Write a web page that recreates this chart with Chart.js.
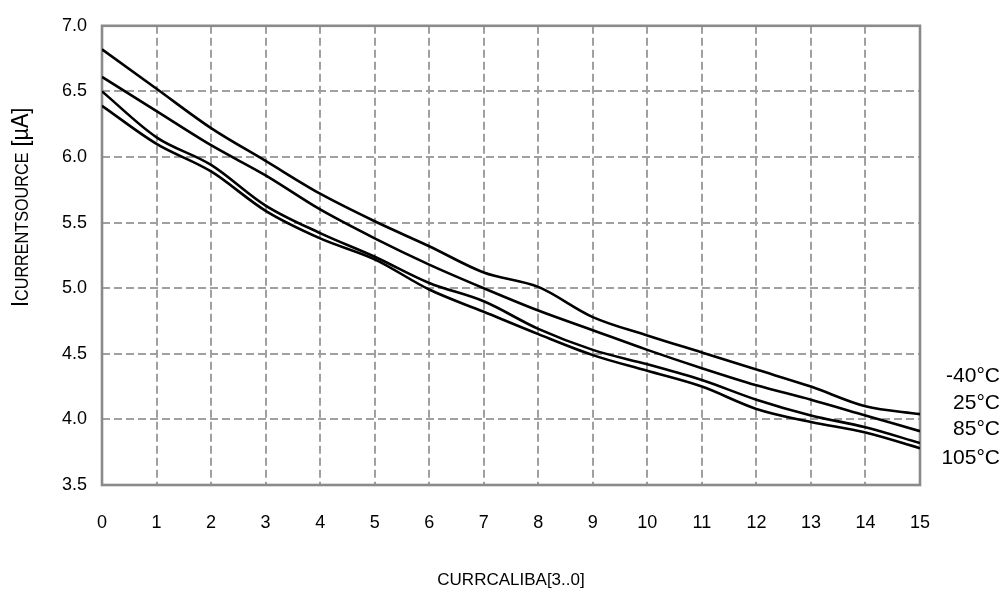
<!DOCTYPE html>
<html>
<head>
<meta charset="utf-8">
<script src="https://cdn.jsdelivr.net/npm/chart.js@4/dist/chart.umd.min.js"></script>
<style>
  html, body { margin: 0; padding: 0; background: #fff; }
  #wrap { position: relative; width: 1002px; height: 592px; }
</style>
</head>
<body>
<div id="wrap"><canvas id="ichart" width="1002" height="592"></canvas></div>
<script>
// CURRCALIBA code on x, current source in µA on y
const calibCodes = [0, 1, 2, 3, 4, 5, 6, 7, 8, 9, 10, 11, 12, 13, 14, 15];
const tempLabels = ['-40°C', '25°C', '85°C', '105°C'];
const iMinus40 = [6.82, 6.52, 6.22, 5.97, 5.72, 5.51, 5.32, 5.12, 5.01, 4.78, 4.64, 4.51, 4.38, 4.25, 4.10, 4.04];
const i25 = [6.61, 6.35, 6.09, 5.86, 5.60, 5.38, 5.18, 5.00, 4.83, 4.68, 4.53, 4.39, 4.26, 4.15, 4.03, 3.91];
const i85 = [6.50, 6.15, 5.94, 5.63, 5.42, 5.24, 5.04, 4.90, 4.69, 4.53, 4.42, 4.30, 4.15, 4.03, 3.94, 3.82];
const i105 = [6.39, 6.10, 5.89, 5.59, 5.38, 5.22, 4.99, 4.82, 4.65, 4.49, 4.37, 4.25, 4.08, 3.98, 3.90, 3.78];
const yTicks = [3.5, 4.0, 4.5, 5.0, 5.5, 6.0, 6.5, 7.0];

const FONT = '"Liberation Sans", Arial, sans-serif';
const gridGrey = '#a0a0a0';
const frameGrey = '#8a8a8a';

const series = [iMinus40, i25, i85, i105];
const datasets = series.map((vals, i) => ({
    label: tempLabels[i],
    data: vals.map((v, k) => ({ x: calibCodes[k], y: v })),
    borderColor: '#000',
    borderWidth: 2.6,
    pointRadius: 0,
    fill: false,
    cubicInterpolationMode: 'monotone'
}));

// solid frame round the plot area (grid lines stay dashed)
const framePlugin = {
    id: 'frame',
    beforeDatasetsDraw(chart) {
        const { ctx, chartArea: a } = chart;
        ctx.save();
        ctx.strokeStyle = frameGrey;
        ctx.lineWidth = 2.6;
        ctx.setLineDash([]);
        ctx.strokeRect(a.left, a.top, a.right - a.left, a.bottom - a.top);
        ctx.restore();
    }
};

// y title with the small-caps subscript, and the temperature labels on the right
const textPlugin = {
    id: 'texts',
    afterDraw(chart) {
        const { ctx, chartArea: a } = chart;
        ctx.save();
        ctx.fillStyle = '#000';
        ctx.textBaseline = 'alphabetic';

        // the original uses a narrow face: squeeze along the text direction
        ctx.save();
        ctx.translate(28, 307);
        ctx.rotate(-Math.PI / 2);
        ctx.scale(0.9, 1);
        ctx.textAlign = 'left';
        let x = 0;
        ctx.font = '24px ' + FONT;
        ctx.fillText('I', x, 0);
        x += ctx.measureText('I').width;
        ctx.font = '18px ' + FONT;
        ctx.fillText('CURRENTSOURCE', x, 0);
        x += ctx.measureText('CURRENTSOURCE').width;
        ctx.font = '24px ' + FONT;
        ctx.fillText(' [µA]', x, 0);
        ctx.restore();

        ctx.font = '21px ' + FONT;
        ctx.textAlign = 'right';
        ctx.textBaseline = 'middle';
        const rows = [350, 377, 403, 432];
        tempLabels.forEach((t, i) => {
            ctx.fillText(t, chart.width - 2, a.top + rows[i]);
        });
        ctx.restore();
    }
};

new Chart(document.getElementById('ichart'), {
    type: 'line',
    data: { datasets },
    options: {
        responsive: false,
        animation: false,
        events: [],
        layout: { padding: { top: 20, right: 82, bottom: 0, left: 0 } },
        plugins: {
            legend: { display: false },
            tooltip: { enabled: false }
        },
        scales: {
            x: {
                type: 'linear',
                min: 0,
                max: 15,
                afterFit(scale) { scale.height = 107; },
                afterBuildTicks(scale) {
                    scale.ticks = calibCodes.map(v => ({ value: v }));
                },
                ticks: {
                    color: '#000',
                    padding: 27,
                    maxRotation: 0,
                    font: { family: FONT, size: 18 },
                    callback: v => String(v)
                },
                grid: {
                    drawTicks: false,
                    color: ctx => (ctx.tick && (ctx.tick.value === 0 || ctx.tick.value === 15)) ? 'rgba(0,0,0,0)' : gridGrey,
                    lineWidth: 2
                },
                border: { display: false, dash: [8, 4] },
                title: {
                    display: true,
                    text: 'CURRCALIBA[3..0]',
                    color: '#000',
                    font: { family: FONT, size: 17 },
                    padding: { top: 0, bottom: 1 }
                }
            },
            y: {
                type: 'linear',
                min: 3.5,
                max: 7.0,
                afterFit(scale) { scale.width = 102; },
                afterBuildTicks(scale) {
                    scale.ticks = yTicks.map(v => ({ value: v }));
                },
                ticks: {
                    color: '#000',
                    padding: 15,
                    font: { family: FONT, size: 18 },
                    callback: v => Number(v).toFixed(1)
                },
                grid: {
                    drawTicks: false,
                    color: ctx => (ctx.tick && (ctx.tick.value === 3.5 || ctx.tick.value === 7)) ? 'rgba(0,0,0,0)' : gridGrey,
                    lineWidth: 2
                },
                border: { display: false, dash: [8, 4] }
            }
        }
    },
    plugins: [framePlugin, textPlugin]
});
</script>
</body>
</html>
